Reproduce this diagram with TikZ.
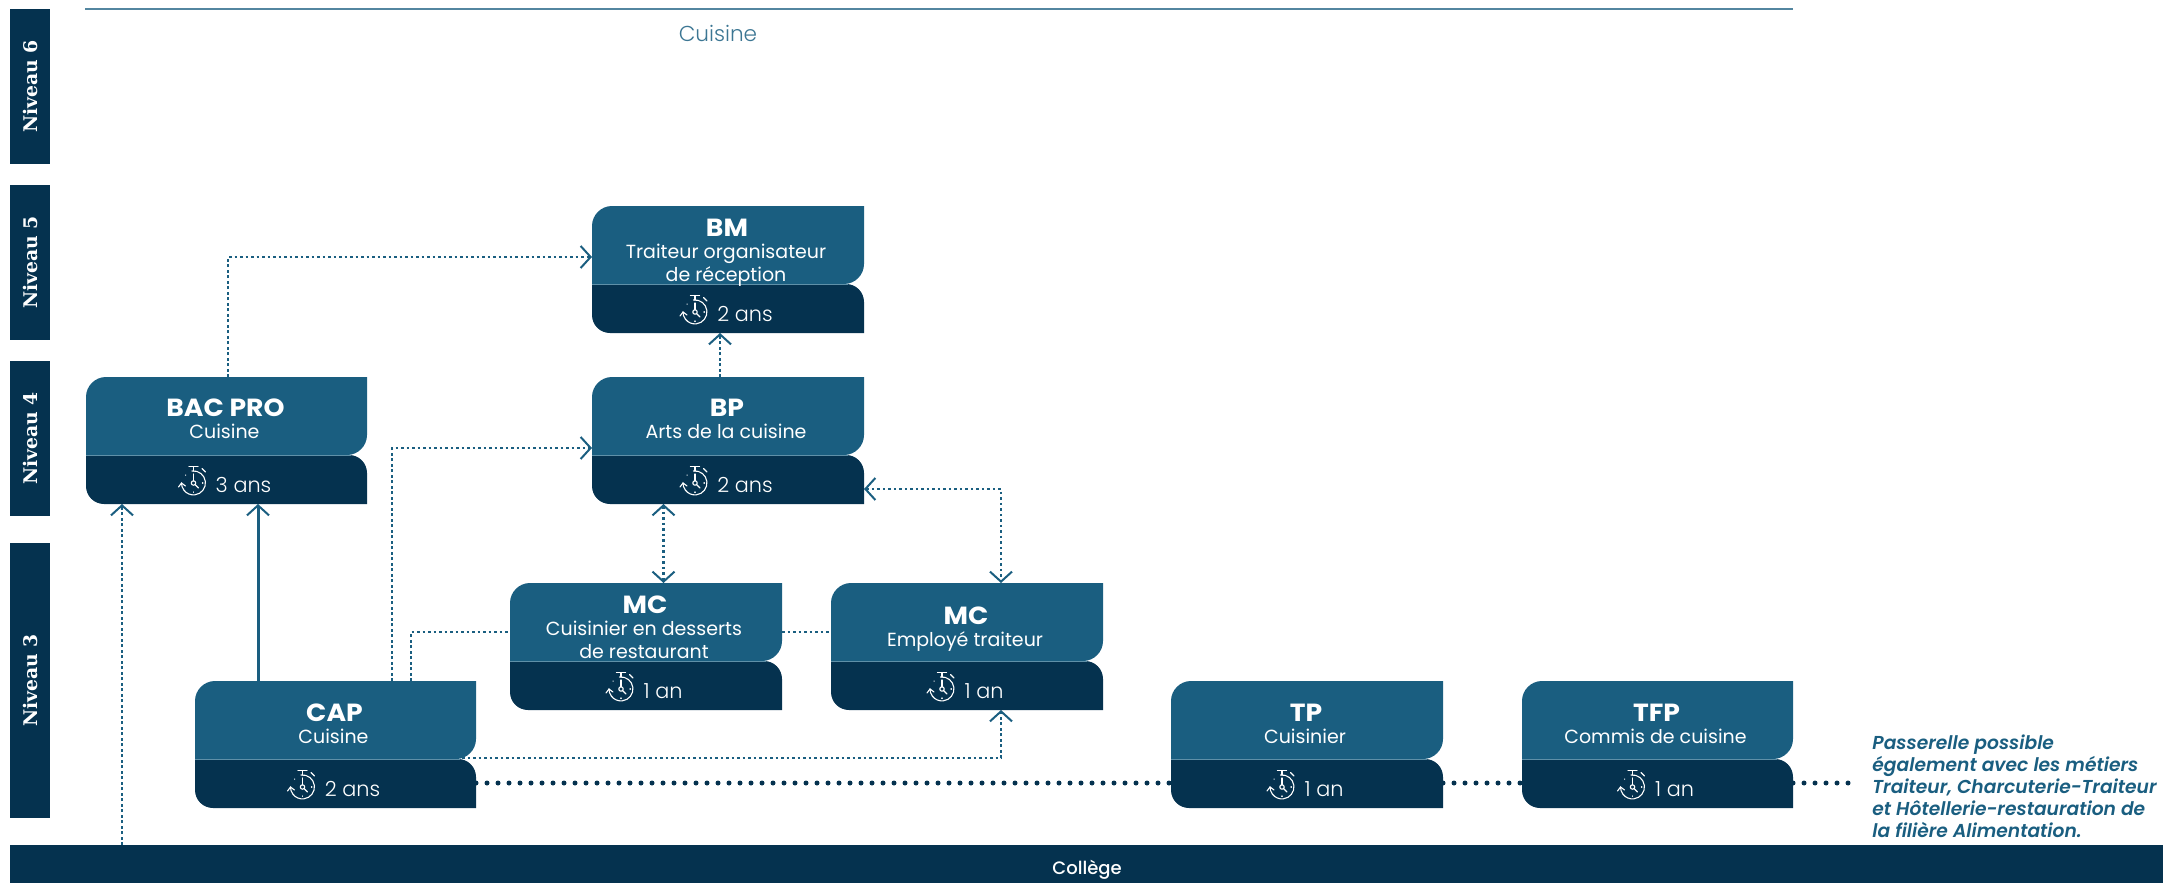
\documentclass[tikz,border=0pt]{standalone}
\usepackage{fontspec}
\usetikzlibrary{arrows.meta,backgrounds}
\setmainfont{Poppins}
\newfontfamily\plight{Poppins Light}
\newfontfamily\psemi{Poppins SemiBold Italic}
\newfontfamily\pbold{Poppins}[UprightFont=*-Bold,FakeStretch=1.075]
\newfontfamily\pmed{Poppins Medium}
\newfontfamily\slab{DejaVu Serif}[UprightFont=* Bold]
\definecolor{upper}{HTML}{1A5E80}
\definecolor{lower}{HTML}{05324F}
\definecolor{sepcol}{HTML}{5F90A8}
\newcommand{\twolines}[2]{\begin{tabular}[t]{@{}c@{}}#1\\#2\end{tabular}}
\tikzset{
  >={Straight Barb[length=5pt,width=11pt,line width=1pt]},
  upperpart/.style={fill=upper},
  lowerpart/.style={fill=lower},
  boxnode/.style={inner sep=0pt,outer sep=0pt,rectangle},
  titletext/.style={anchor=base,inner sep=0pt,text=white,font=\pbold\fontsize{12.4}{14}\selectfont},
  subtext/.style={anchor=base,inner sep=0pt,text=white,font=\fontsize{9.5}{11.5}\selectfont},
  durtext/.style={anchor=base,inner sep=0pt,text=white,font=\plight\fontsize{10.4}{12}\selectfont},
  thindots/.style={color=upper,line width=1.3pt,dash pattern=on 1.3pt off 1.45pt},
  bigdots/.style={color=lower,line width=2.5pt,line cap=round,dash pattern=on 0pt off 5.5pt},
  levelbox/.style={fill=lower,text=white,rotate=90,inner sep=0pt,minimum height=20pt,font=\slab\fontsize{9.4}{12}\selectfont},
  chrono/.pic={
    \begin{scope}[white,line width=0.55pt,line cap=round]
      \draw (-1.5,-12) arc[start angle=-97,end angle=180,radius=12];
      \draw (-15,4) -- (-12,0) -- (-8,3);
      \draw (0,-12) -- (0,-16);
      \draw (-4.5,-16.5) -- (4.5,-16.5);
      \draw (8.5,-14.5) -- (12,-11);
      \draw (0,-9) -- (0,-2.2);
      \draw (0,0) circle[radius=2.2];
      \draw (1.6,1.6) -- (5,5);
      \draw (-8,-8) -- (-7.7,-7.7);
      \draw (9,0) -- (9.4,0);
      \draw (0,9) -- (0,9.4);
    \end{scope}
  }
}
\newcommand{\formbox}[9]{%
  % name, x0, x1, ytop, title baseline, title, subtitle, duration, icon offset
  \pgfmathsetmacro\ymid{#4+78}
  \pgfmathsetmacro\ybot{#4+127}
  \pgfmathsetmacro\xmid{(#2+#3)/2}
  \pgfmathsetmacro\bxw{(#3-#2)*0.5}
  \pgfmathsetmacro\ymc{#4+63.5}
  \fill[upperpart] (#2,\ymid) -- (#2,#4+20) .. controls (#2,#4+9) and (#2+9,#4) .. (#2+20,#4)
    -- (#3,#4) -- (#3,\ymid-20) .. controls (#3,\ymid-9) and (#3-9,\ymid) .. (#3-20,\ymid) -- cycle;
  \fill[lowerpart] (#2,\ymid) -- (#3-18,\ymid) .. controls (#3-8,\ymid) and (#3,\ymid+8) .. (#3,\ymid+18)
    -- (#3,\ybot) -- (#2+18,\ybot) .. controls (#2+8,\ybot) and (#2,\ybot-8) .. (#2,\ybot-18) -- cycle;
  \draw[sepcol,line width=0.5pt] (#2,\ymid) -- (#3-16,\ymid);
  \node[boxnode,minimum width=\bxw pt,minimum height=63.5pt] (#1) at (\xmid,\ymc) {};
  \node[titletext] (#1title) at (\xmid-1,#5+1) {#6};
  \node[subtext] (#1sub) at (\xmid-2,#5+23.5) {#7};
  \node[durtext] (#1dur) at (\xmid+17,\ybot-12) {#8};
  \pic at (\xmid+#9,\ybot-21) {chrono};
}
\begin{document}
\begin{tikzpicture}[x=0.5pt,y=-0.5pt]
\useasboundingbox (0,0) rectangle (2163,883);

% Levels
\node[levelbox,minimum width=77.5pt] (n6) at (30,86.5) {Niveau 6};
\node[levelbox,minimum width=77.5pt] (n5) at (30,262.5) {Niveau 5};
\node[levelbox,minimum width=77.5pt] (n4) at (30,438.5) {Niveau 4};
\node[levelbox,minimum width=137.5pt] (n3) at (30,680.5) {Niveau 3};

% Top rule and label
\coordinate (ruleL) at (85,9);
\coordinate (ruleR) at (1793,9);
\draw[upper!75!white,line width=1pt] (ruleL) -- (ruleR);
\node[anchor=base,inner sep=0pt,text=upper!85!white,font=\plight\fontsize{10.8}{13}\selectfont] (cuisinehead) at (718,41.5) {Cuisine};

% College
\node[boxnode,fill=lower,minimum width=1077pt,minimum height=19pt] (college) at (1086.5,864) {};
\node[anchor=base,inner sep=0pt,text=white,font=\pmed\fontsize{9}{11}\selectfont] (collegetxt) at (1087,874) {Collège};

% Formation boxes
\formbox{bm}{592}{864}{206}{235}{BM}{\twolines{Traiteur organisateur}{de réception}}{2 ans}{-33}
\formbox{bp}{592}{864}{377}{415}{BP}{Arts de la cuisine}{2 ans}{-33}
\formbox{bac}{86}{367}{377}{415}{BAC PRO}{Cuisine}{3 ans}{-33}
\formbox{mca}{510}{782}{583}{612}{MC}{\twolines{Cuisinier en desserts}{de restaurant}}{1 an}{-25}
\formbox{mcb}{831}{1103}{583}{623}{MC}{Employé traiteur}{1 an}{-25}
\formbox{cap}{195}{476}{681}{720}{CAP}{Cuisine}{2 ans}{-33}
\formbox{tp}{1171}{1443}{681}{720}{TP}{Cuisinier}{1 an}{-25}
\formbox{tfp}{1522}{1793}{681}{720}{TFP}{Commis de cuisine}{1 an}{-25}

% Passerelle note
\node[anchor=north west,inner sep=0pt,text=upper,align=left,font=\psemi\fontsize{9.35}{11.1}\selectfont] (note) at (1872,734)
  {Passerelle possible\\également avec les métiers\\Traiteur, Charcuterie-Traiteur\\et Hôtellerie-restauration de\\la filière Alimentation.};

% Guide coordinates
\coordinate (xcol) at (122,0);
\coordinate (xsolid) at (258,0);
\coordinate (xbac) at (228,0);
\coordinate (xcapbp) at (392,0);
\coordinate (xcapmc) at (411,0);
\coordinate (xbm) at (720,0);
\coordinate (xmca) at (663.5,0);
\coordinate (xmcb) at (1001,0);
\coordinate (ybm) at (0,257);
\coordinate (ybpl) at (0,448);
\coordinate (ybpr) at (0,489);
\coordinate (ymc) at (0,632);
\coordinate (ycap) at (0,758);
\coordinate (yrow) at (0,783);
\coordinate (endrow) at (1858,783);

\begin{scope}[on background layer]
  \draw[thindots,->] (bac.north -| xbac) |- (bm.west |- ybm);
  \draw[thindots,->] (college.north -| xcol) -- (bac.south -| xcol);
  \draw[upper,line width=1.5pt,->] (cap.north -| xsolid) -- (bac.south -| xsolid);
  \draw[thindots,->] (cap.north -| xcapbp) |- (bp.west |- ybpl);
  \draw[thindots] (cap.north -| xcapmc) |- (mca.west |- ymc);
  \draw[thindots] (mca.east |- ymc) -- (mcb.west |- ymc);
  \draw[thindots,->] (cap.center |- ycap) -| (mcb.south -| xmcb);
  \draw[thindots,->] (bp.north -| xbm) -- (bm.south -| xbm);
  \draw[thindots,<->] (bp.south -| xmca) -- (mca.north -| xmca);
  \draw[thindots,<->] (bp.east |- ybpr) -| (mcb.north -| xmcb);
  \draw[bigdots] (cap.east |- yrow) -- (tp.west |- yrow);
  \draw[bigdots] (tp.east |- yrow) -- (tfp.west |- yrow);
  \draw[bigdots] (tfp.east |- yrow) -- (endrow);
\end{scope}
\end{tikzpicture}
\end{document}
